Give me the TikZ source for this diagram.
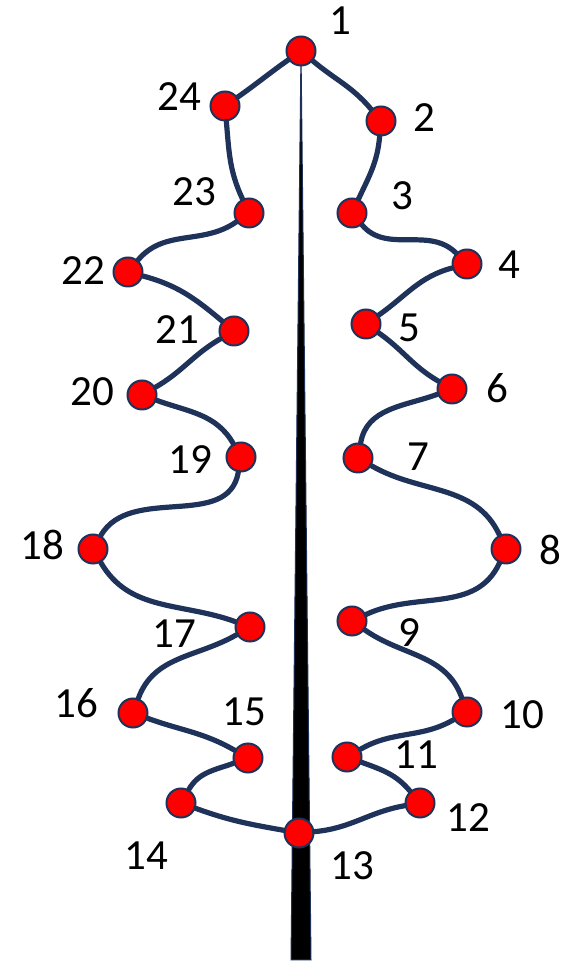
\documentclass[tikz,border=0pt]{standalone}
\usepackage{fontspec}
\setmainfont{Carlito}
\definecolor{navy}{RGB}{31,50,90}
\begin{document}
\begin{tikzpicture}[x=0.5pt, y=0.5pt,
        dot/.style={circle, fill=red, draw=navy, line width=1pt, minimum size=14.5pt, inner sep=0pt},
        lbl/.style={inner sep=0pt, font=\fontsize{21.5}{26}\selectfont},
        wire/.style={draw=navy, line width=2.6pt, line cap=round}]
        \useasboundingbox (0,0) rectangle (562,964);
        % trunk
        \filldraw[fill=black, draw=navy, line width=0.5pt] (301,913) -- (311,4) -- (291,4) -- cycle;
        % points
        \node[dot] (n1) at (301,913) {};
        \node[dot] (n2) at (381,843) {};
        \node[dot] (n3) at (352,751) {};
        \node[dot] (n4) at (467,700) {};
        \node[dot] (n5) at (366,640) {};
        \node[dot] (n6) at (452,575) {};
        \node[dot] (n7) at (358,506) {};
        \node[dot] (n8) at (506,415) {};
        \node[dot] (n9) at (352,343) {};
        \node[dot] (n10) at (467,252) {};
        \node[dot] (n11) at (347,207) {};
        \node[dot] (n12) at (420,161) {};
        \node[dot] (n13) at (299,131) {};
        \node[dot] (n14) at (181,161) {};
        \node[dot] (n15) at (248,206) {};
        \node[dot] (n16) at (133,251) {};
        \node[dot] (n17) at (250,337) {};
        \node[dot] (n18) at (93,415) {};
        \node[dot] (n19) at (241,507) {};
        \node[dot] (n20) at (142,569) {};
        \node[dot] (n21) at (234,633) {};
        \node[dot] (n22) at (128,692) {};
        \node[dot] (n23) at (249,751) {};
        \node[dot] (n24) at (225,858) {};
        % numbers
        \node[lbl] (l1) at (340,943) {1};
        \node[lbl] (l2) at (424,846) {2};
        \node[lbl] (l3) at (402,768) {3};
        \node[lbl] (l4) at (509,699) {4};
        \node[lbl] (l5) at (409,636) {5};
        \node[lbl] (l6) at (497,576) {6};
        \node[lbl] (l7) at (418,507) {7};
        \node[lbl] (l8) at (550,414) {8};
        \node[lbl] (l9) at (409,331) {9};
        \node[lbl] (l10) at (522,249) {10};
        \node[lbl] (l11) at (416,209) {11};
        \node[lbl] (l12) at (468,146) {12};
        \node[lbl] (l13) at (352,98) {13};
        \node[lbl] (l14) at (146,108) {14};
        \node[lbl] (l15) at (244,252) {15};
        \node[lbl] (l16) at (76,261) {16};
        \node[lbl] (l17) at (174,330) {17};
        \node[lbl] (l18) at (42,419) {18};
        \node[lbl] (l19) at (190,504) {19};
        \node[lbl] (l20) at (92,572) {20};
        \node[lbl] (l21) at (177,634) {21};
        \node[lbl] (l22) at (83,693) {22};
        \node[lbl] (l23) at (194,772) {23};
        \node[lbl] (l24) at (179,867) {24};
        % outline
        \draw[wire] (n1) to[out=-40,in=130] (n2);
        \draw[wire] (n2) to[out=-95,in=65] (n3);
        \draw[wire] (n3) to[out=-50,in=135] (n4);
        \draw[wire] (n4) to[out=-165,in=35] (n5);
        \draw[wire] (n5) to[out=-35,in=150] (n6);
        \draw[wire] (n6) to[out=-160,in=80] (n7);
        \draw[wire] (n7) to[out=-30,in=115] (n8);
        \draw[wire] (n8) to[out=-115,in=25] (n9);
        \draw[wire] (n9) to[out=-35,in=110] (n10);
        \draw[wire] (n10) to[out=-150,in=30] (n11);
        \draw[wire] (n11) to[out=-20,in=130] (n12);
        \draw[wire] (n12) to[out=190,in=5] (n13);
        \draw[wire] (n13) to[out=170,in=-20] (n14);
        \draw[wire] (n14) to[out=60,in=-160] (n15);
        \draw[wire] (n15) to[out=150,in=-20] (n16);
        \draw[wire] (n16) to[out=70,in=-150] (n17);
        \draw[wire] (n17) to[out=160,in=-60] (n18);
        \draw[wire] (n18) to[out=60,in=-100] (n19);
        \draw[wire] (n19) to[out=120,in=-20] (n20);
        \draw[wire] (n20) to[out=30,in=-150] (n21);
        \draw[wire] (n21) to[out=140,in=-15] (n22);
        \draw[wire] (n22) to[out=50,in=-145] (n23);
        \draw[wire] (n23) to[out=115,in=-85] (n24);
        \draw[wire] (n24) to[out=35,in=-145] (n1);
\end{tikzpicture}
\end{document}
